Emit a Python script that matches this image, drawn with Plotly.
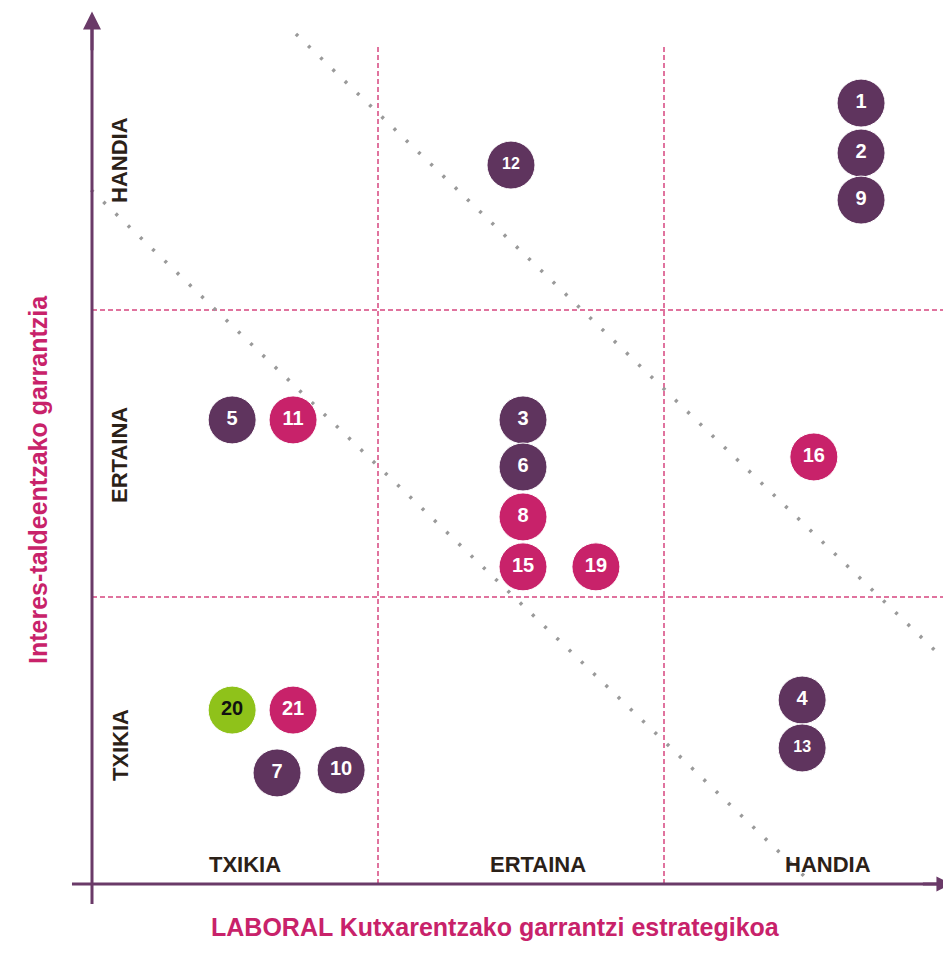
import plotly.graph_objects as go

# ---- data (quadrant units: 0..3 on each axis) ----
ids = ["1", "2", "9", "12", "5", "11", "3", "6", "8", "15", "19", "16", "20", "21", "7", "10", "4", "13"]
x_vals = [2.689, 2.689, 2.689, 1.465, 0.490, 0.703, 1.507, 1.507, 1.507, 1.507, 1.762, 2.524, 0.490, 0.703, 0.647, 0.871, 2.483, 2.483]
y_vals = [2.721, 2.547, 2.383, 2.505, 1.617, 1.617, 1.617, 1.453, 1.279, 1.105, 1.105, 1.488, 0.606, 0.606, 0.387, 0.397, 0.641, 0.474]
groups = ["p", "p", "p", "p", "p", "m", "p", "p", "m", "m", "m", "m", "g", "m", "p", "p", "p", "p"]
label_sizes = [20, 20, 20, 16, 20, 20, 20, 20, 20, 20, 20, 20, 20, 20, 20, 20, 20, 16]

x_levels = ["TXIKIA", "ERTAINA", "HANDIA"]
y_levels = ["TXIKIA", "ERTAINA", "HANDIA"]
x_level_pos = [0.535, 1.559, 2.573]
y_level_pos = [0.484, 1.495, 2.523]

x_title = "LABORAL Kutxarentzako garrantzi estrategikoa"
y_title = "Interes-taldeentzako garrantzia"

# diagonal dotted guide lines (start, end)
diag_upper = [(0.713, 2.962), (2.993, 0.770)]
diag_lower = [(-0.003, 2.418), (2.497, 0.021)]

colors = {"p": "#5F345E", "m": "#C8226A", "g": "#8FC21A"}
text_colors = {"p": "white", "m": "white", "g": "#111111"}

AXIS_COL = "#6A3A68"
GRID_COL = "#D6457F"
FONT = "Liberation Sans, Arial, sans-serif"

# page offset (body margin) and pixel scale
OFF = 8
X0, Y0 = 92 - OFF, 884 - OFF
SX, SY = 286, 287

fig = go.Figure()

for seg in (diag_upper, diag_lower):
    fig.add_trace(go.Scatter(
        x=[seg[0][0], seg[1][0]], y=[seg[0][1], seg[1][1]], mode="lines",
        line=dict(color="#9A9A9A", width=3.5, dash="3px,14px"),
        hoverinfo="skip", showlegend=False))

fig.add_trace(go.Scatter(
    x=x_vals, y=y_vals, mode="markers+text", text=ids,
    textposition="middle center",
    textfont=dict(family=FONT, size=label_sizes, color=[text_colors[g] for g in groups], weight="bold"),
    marker=dict(size=48, color=[colors[g] for g in groups], line=dict(width=1, color="white")),
    hoverinfo="skip", showlegend=False))

shapes = []
for v in (1, 2):
    shapes.append(dict(type="line", xref="x", yref="y", x0=v, x1=v, y0=0, y1=2.92,
                       line=dict(color=GRID_COL, width=1.5, dash="5px,3px"), layer="below"))
    shapes.append(dict(type="line", xref="x", yref="y", x0=0, x1=3.0, y0=v, y1=v,
                       line=dict(color=GRID_COL, width=1.5, dash="5px,3px"), layer="below"))
shapes.append(dict(type="line", xref="x", yref="y", x0=-0.07, x1=2.99, y0=0, y1=0,
                   line=dict(color=AXIS_COL, width=3)))
shapes.append(dict(type="line", xref="x", yref="y", x0=0, x1=0, y0=-0.07, y1=3.0,
                   line=dict(color=AXIS_COL, width=3)))
fig.update_layout(shapes=shapes)

ann = []
ann.append(dict(x=0, y=3.04, ax=0, ay=2.9, xref="x", yref="y", axref="x", ayref="y",
                showarrow=True, arrowhead=2, arrowsize=1.2, arrowwidth=3, arrowcolor=AXIS_COL, text=""))
ann.append(dict(x=3.005, y=0, ax=2.9, ay=0, xref="x", yref="y", axref="x", ayref="y",
                showarrow=True, arrowhead=2, arrowsize=1.0, arrowwidth=3, arrowcolor=AXIS_COL, text=""))
for t, xp in zip(x_levels, x_level_pos):
    ann.append(dict(x=xp, y=0.0697, xref="x", yref="y", text=t, showarrow=False,
                    font=dict(family=FONT, size=22, color="#2B2118", weight="bold")))
for t, yp in zip(y_levels, y_level_pos):
    ann.append(dict(x=0.098, y=yp, xref="x", yref="y", text=t, showarrow=False, textangle=-90,
                    font=dict(family=FONT, size=22, color="#2B2118", weight="bold")))
ann.append(dict(x=(495 - OFF) / 951, y=1 - (943 - OFF) / 959, xref="paper", yref="paper", text=x_title,
                showarrow=False, font=dict(family=FONT, size=25, color="#C8226A", weight="bold")))
ann.append(dict(x=(22 - OFF) / 951, y=1 - (480 - OFF) / 959, xref="paper", yref="paper", text=y_title,
                showarrow=False, textangle=-90,
                font=dict(family=FONT, size=25, color="#C8226A", weight="bold")))
fig.update_layout(annotations=ann)

fig.update_layout(
    width=951, height=959,
    margin=dict(l=0, r=0, t=0, b=0),
    paper_bgcolor="white", plot_bgcolor="white",
    xaxis=dict(range=[-X0 / SX, (951 - X0) / SX], visible=False, fixedrange=True),
    yaxis=dict(range=[-(959 - Y0) / SY, Y0 / SY], visible=False, fixedrange=True),
)

fig.write_html("out.html")
